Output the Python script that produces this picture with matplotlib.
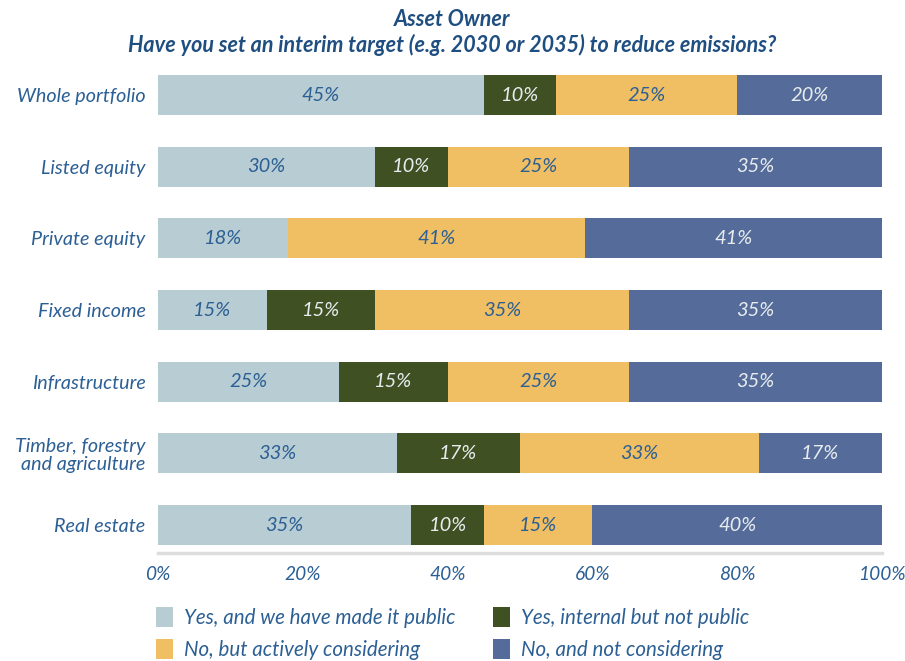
import numpy as np
import matplotlib.pyplot as plt
from matplotlib.patches import Patch

plt.rcParams['font.family'] = ['Lato', 'DejaVu Sans']

categories = ['Whole portfolio', 'Listed equity', 'Private equity', 'Fixed income',
              'Infrastructure', 'Timber, forestry\nand agriculture', 'Real estate']
series_names = ['Yes, and we have made it public', 'Yes, internal but not public',
                'No, but actively considering', 'No, and not considering']
yes_public = [45, 30, 18, 15, 25, 33, 35]
yes_internal = [10, 10, 0, 15, 15, 17, 10]
no_considering = [25, 25, 41, 35, 25, 33, 15]
no_not = [20, 35, 41, 35, 35, 17, 40]
xticks = [0, 20, 40, 60, 80, 100]

colors = ['#b8cdd3', '#3f5023', '#f0bf63', '#556c9a']
text_colors = ['#2c5f94', '#e8ecef', '#2c5f94', '#e8ecef']
blue = '#2c5f94'

fig = plt.figure(figsize=(9.05, 6.61), dpi=100)
ax = fig.add_axes([158 / 905, 108 / 661, 724 / 905, 478 / 661])

y = np.arange(len(categories))
left = np.zeros(len(categories))
for vals, col, tcol in zip([yes_public, yes_internal, no_considering, no_not], colors, text_colors):
    vals = np.array(vals, dtype=float)
    ax.barh(y, vals, left=left, height=0.56, color=col, edgecolor='none')
    for yi, l, v in zip(y, left, vals):
        if v > 0:
            ax.text(l + v / 2, yi, f'{v:.0f}%', ha='center', va='center',
                    color=tcol, fontsize=14.5, style='italic')
    left += vals

ax.set_xlim(0, 100)
ax.set_ylim(6.39, -0.28)
ax.set_yticks(y)
ax.set_yticklabels(categories, fontsize=14.2, style='italic', color=blue, ha='right',
                   linespacing=1.05)
ax.set_xticks(xticks)
ax.set_xticklabels([f'{t}%' for t in xticks], fontsize=13.8, style='italic', color=blue)
ax.tick_params(length=0)
ax.tick_params(axis='y', pad=9)
ax.tick_params(axis='x', pad=9)
for s in ['top', 'right', 'left']:
    ax.spines[s].set_visible(False)
ax.spines['bottom'].set_color('#dddddd')
ax.spines['bottom'].set_linewidth(2.5)

fig.text(0.5, 1 - 20 / 661, 'Asset Owner', ha='center', va='center',
         fontsize=15.5, weight='bold', style='italic', color='#1f4e80')
fig.text(0.5, 1 - 45 / 661, 'Have you set an interim target (e.g. 2030 or 2035) to reduce emissions?',
         ha='center', va='center', fontsize=15.5, weight='bold', style='italic', color='#1f4e80')

# legend is filled column by column, so interleave to get the row order
order = [0, 2, 1, 3]
handles = [Patch(facecolor=colors[i], edgecolor='none') for i in order]
labels = [series_names[i] for i in order]
fig.legend(handles, labels, loc='upper left', bbox_to_anchor=(152 / 905, 1 - 603 / 661),
           ncol=2, frameon=False, handlelength=0.8, handleheight=1.1, handletextpad=0.55,
           columnspacing=1.85, labelspacing=0.55, borderaxespad=0, borderpad=0.2,
           prop={'style': 'italic', 'size': 14.8}, labelcolor=blue)

fig.savefig('out.png', dpi=100)
